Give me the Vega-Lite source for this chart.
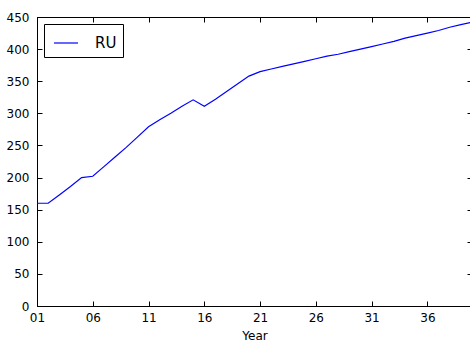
{
  "$schema": "https://vega.github.io/schema/vega-lite/v6.json",
  "width": 435,
  "height": 289,
  "autosize": {"type": "none"},
  "padding": {"left": 37, "top": 17, "right": 0, "bottom": 36},
  "background": "white",
  "config": {
    "view": {"stroke": "black", "strokeWidth": 1},
    "font": "DejaVu Sans",
    "axis": {
      "grid": false,
      "domainColor": "black",
      "tickColor": "black",
      "labelColor": "black",
      "titleColor": "black",
      "labelFont": "DejaVu Sans",
      "titleFont": "DejaVu Sans",
      "labelFontSize": 12,
      "titleFontSize": 12,
      "titleFontWeight": "normal",
      "tickSize": -5
    }
  },
  "data": {
    "values": [
      {"year": "01", "value": 160, "country": "RU"},
      {"year": "02", "value": 160, "country": "RU"},
      {"year": "03", "value": 173, "country": "RU"},
      {"year": "04", "value": 186, "country": "RU"},
      {"year": "05", "value": 200, "country": "RU"},
      {"year": "06", "value": 202, "country": "RU"},
      {"year": "07", "value": 217, "country": "RU"},
      {"year": "08", "value": 232, "country": "RU"},
      {"year": "09", "value": 247, "country": "RU"},
      {"year": "10", "value": 263, "country": "RU"},
      {"year": "11", "value": 279, "country": "RU"},
      {"year": "12", "value": 290, "country": "RU"},
      {"year": "13", "value": 300, "country": "RU"},
      {"year": "14", "value": 311, "country": "RU"},
      {"year": "15", "value": 321, "country": "RU"},
      {"year": "16", "value": 311, "country": "RU"},
      {"year": "17", "value": 322, "country": "RU"},
      {"year": "18", "value": 334, "country": "RU"},
      {"year": "19", "value": 346, "country": "RU"},
      {"year": "20", "value": 358, "country": "RU"},
      {"year": "21", "value": 365, "country": "RU"},
      {"year": "22", "value": 369, "country": "RU"},
      {"year": "23", "value": 373, "country": "RU"},
      {"year": "24", "value": 377, "country": "RU"},
      {"year": "25", "value": 381, "country": "RU"},
      {"year": "26", "value": 385, "country": "RU"},
      {"year": "27", "value": 389, "country": "RU"},
      {"year": "28", "value": 392, "country": "RU"},
      {"year": "29", "value": 396, "country": "RU"},
      {"year": "30", "value": 400, "country": "RU"},
      {"year": "31", "value": 404, "country": "RU"},
      {"year": "32", "value": 408, "country": "RU"},
      {"year": "33", "value": 412, "country": "RU"},
      {"year": "34", "value": 417, "country": "RU"},
      {"year": "35", "value": 421, "country": "RU"},
      {"year": "36", "value": 425, "country": "RU"},
      {"year": "37", "value": 429, "country": "RU"},
      {"year": "38", "value": 434, "country": "RU"},
      {"year": "39", "value": 438, "country": "RU"},
      {"year": "40", "value": 442, "country": "RU"}
    ]
  },
  "layer": [
    {
      "mark": {"type": "line", "strokeWidth": 1.2},
      "encoding": {
        "x": {
          "field": "year",
          "type": "ordinal",
          "scale": {"type": "point", "padding": 0},
          "axis": {
            "orient": "bottom",
            "values": ["01", "06", "11", "16", "21", "26", "31", "36"],
            "labelAngle": 0,
            "labelPadding": 11,
            "title": "Year",
            "titlePadding": 7
          }
        },
        "y": {
          "field": "value",
          "type": "quantitative",
          "scale": {"domain": [0, 450], "nice": false, "zero": true},
          "axis": {
            "orient": "left",
            "values": [0, 50, 100, 150, 200, 250, 300, 350, 400, 450],
            "labelPadding": 13,
            "title": null
          }
        },
        "color": {
          "field": "country",
          "type": "nominal",
          "scale": {"range": ["#0000ff"]},
          "legend": {
            "orient": "top-left",
            "title": null,
            "offset": 7,
            "padding": 6,
            "symbolType": "stroke",
            "symbolSize": 576,
            "symbolStrokeWidth": 1.2,
            "symbolOffset": 3,
            "labelFont": "DejaVu Sans",
            "labelFontSize": 15,
            "labelColor": "black",
            "labelOffset": 16,
            "strokeColor": "black",
            "fillColor": "white"
          }
        }
      }
    },
    {
      "mark": {"type": "line", "strokeOpacity": 0},
      "encoding": {
        "x": {
          "field": "year",
          "type": "ordinal",
          "scale": {"type": "point", "padding": 0},
          "axis": {
            "orient": "top",
            "values": ["01", "06", "11", "16", "21", "26", "31", "36"],
            "labels": false,
            "title": null
          }
        },
        "y": {
          "field": "value",
          "type": "quantitative",
          "scale": {"domain": [0, 450], "nice": false, "zero": true},
          "axis": {
            "orient": "right",
            "values": [0, 50, 100, 150, 200, 250, 300, 350, 400, 450],
            "labels": false,
            "title": null
          }
        }
      }
    }
  ],
  "resolve": {"axis": {"x": "independent", "y": "independent"}}
}
